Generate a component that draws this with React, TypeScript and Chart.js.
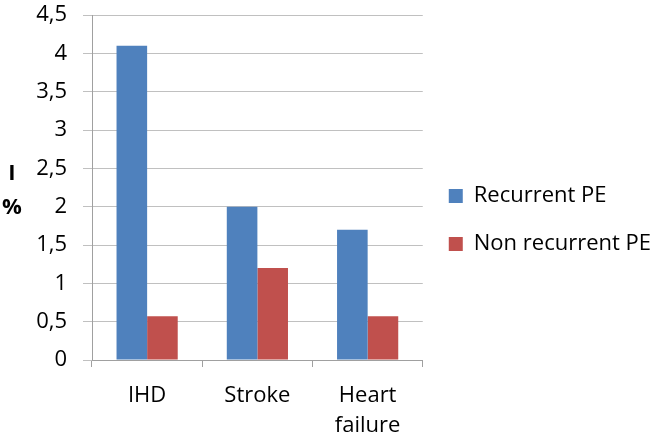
import React, { useEffect, useRef } from "react";
import { Chart, registerables } from "chart.js";

Chart.register(...registerables);

const categories: (string | string[])[] = ["IHD", "Stroke", ["Heart", "failure"]];
const recurrentPE = [4.1, 2.0, 1.7];
const nonRecurrentPE = [0.57, 1.2, 0.57];
const seriesNames = ["Recurrent PE", "Non recurrent PE"];
const yTitleLines = ["I", "%"];

const FONT = "'Open Sans', 'Liberation Sans', sans-serif";

export default function App() {
  const ref = useRef<HTMLCanvasElement | null>(null);
  useEffect(() => {
    let chart: Chart | null = null;
    let cancelled = false;
    const titlePlugin = {
      id: "ytitle",
      afterDraw(c: any) {
        const ctx = c.ctx;
        ctx.save();
        ctx.fillStyle = "#000";
        ctx.font = `bold 22px ${FONT}`;
        ctx.textAlign = "center";
        ctx.textBaseline = "middle";
        ctx.fillText(yTitleLines[0], 12, 174);
        ctx.fillText(yTitleLines[1], 12, 208);
        ctx.restore();
      },
    };
    const make = () => {
      if (cancelled || !ref.current) return;
      chart = new Chart(ref.current, {
        type: "bar",
        data: {
          labels: categories as any,
          datasets: [
            {
              label: seriesNames[0],
              data: recurrentPE,
              backgroundColor: "#4F81BD",
              barPercentage: 1,
              categoryPercentage: 0.555,
            },
            {
              label: seriesNames[1],
              data: nonRecurrentPE,
              backgroundColor: "#C0504D",
              barPercentage: 1,
              categoryPercentage: 0.555,
            },
          ],
        },
        options: {
          animation: false,
          responsive: false,
          maintainAspectRatio: false,
          layout: { padding: { left: 0, top: 0, right: 0, bottom: 0 } },
          plugins: {
            legend: {
              position: "right",
              align: "center",
              maxWidth: 239,
              labels: {
                boxWidth: 14,
                boxHeight: 14,
                padding: 26,
                color: "#000",
                font: { family: FONT, size: 22 },
              },
            },
            tooltip: { enabled: false },
          },
          scales: {
            x: {
              grid: {
                display: true,
                drawOnChartArea: false,
                offset: true,
                tickLength: 7,
                color: "#a0a0a0",
              },
              border: { color: "#a0a0a0" },
              ticks: {
                color: "#000",
                font: { family: FONT, size: 22, lineHeight: 1.4 },
                padding: 13,
                maxRotation: 0,
              },
              afterFit: (s: any) => {
                s.height = 80;
              },
            },
            y: {
              min: 0,
              max: 4.5,
              grid: { color: "#c0c0c0", tickLength: 9 },
              border: { color: "#a0a0a0" },
              ticks: {
                stepSize: 0.5,
                color: "#000",
                padding: 16,
                font: { family: FONT, size: 22 },
                callback: (v: any) => String(v).replace(".", ","),
              },
              afterFit: (s: any) => {
                s.width = 92;
                s.paddingTop = 15;
                s.paddingBottom = 0;
              },
            },
          },
        },
        plugins: [titlePlugin],
      });
    };
    const fonts: any = (document as any).fonts;
    if (fonts && fonts.load) {
      Promise.all([fonts.load(`22px 'Open Sans'`), fonts.load(`bold 22px 'Open Sans'`)])
        .then(make, make);
    } else {
      make();
    }
    return () => {
      cancelled = true;
      if (chart) chart.destroy();
    };
  }, []);
  return (
    <div style={{ position: "fixed", left: 0, top: 0, width: 661, height: 440, background: "#fff" }}>
      <canvas ref={ref} width={661} height={440} />
    </div>
  );
}
